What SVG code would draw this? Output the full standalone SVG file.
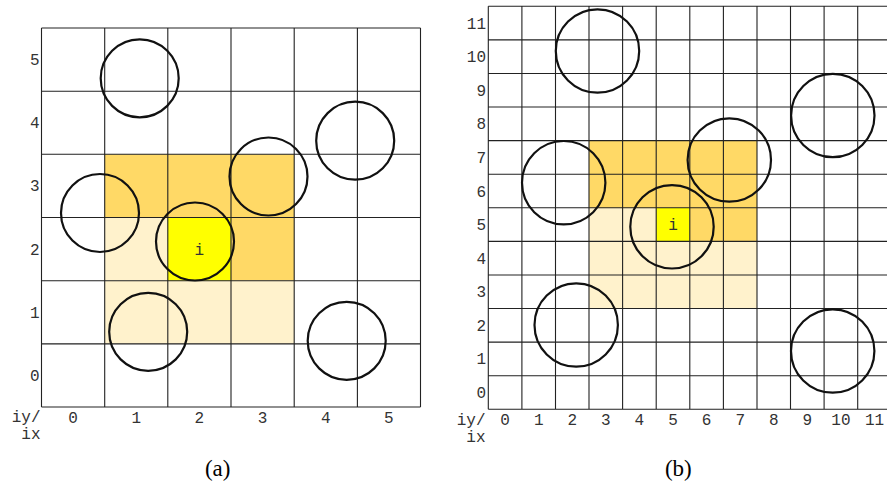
<svg xmlns="http://www.w3.org/2000/svg" width="887" height="487" viewBox="0 0 887 487">
<style>
.grid{fill:none;stroke:#222;stroke-width:1.1}
.c{fill:none;stroke:#111;stroke-width:2.2}
.dk{fill:#FFD966}
.lt{fill:#FFF2CC}
.yl{fill:#FFFF00}
.lb{font-family:"Liberation Mono","DejaVu Sans Mono",monospace;font-size:16px;fill:#333}
.m{text-anchor:middle}
.e{text-anchor:end}
.cap{font-family:"Liberation Serif","Times New Roman",serif;font-size:23px;fill:#000;text-anchor:middle}
</style>
<rect width="887" height="487" fill="#fff"/>
<g id="panel-a">
  <g id="a-cells">
    <rect class="dk" x="104.7" y="154.3" width="189.5" height="63.2"/>
    <rect class="dk" x="231" y="217.5" width="63.2" height="63.2"/>
    <rect class="lt" x="104.7" y="217.5" width="63.1" height="63.2"/>
    <rect class="lt" x="104.7" y="280.7" width="189.5" height="63.2"/>
    <rect class="yl" x="167.8" y="217.5" width="63.2" height="63.2"/>
  </g>
  <path id="a-grid" class="grid" d="M41.5 28V407M104.7 28V407M167.8 28V407M231 28V407M294.2 28V407M357.4 28V407M420.5 28V407M41.5 28H420.5M41.5 91.2H420.5M41.5 154.3H420.5M41.5 217.5H420.5M41.5 280.7H420.5M41.5 343.9H420.5M41.5 407H420.5"/>
  <g id="a-circles">
    <circle class="c" cx="139.7" cy="78.3" r="39"/>
    <circle class="c" cx="100" cy="213" r="39"/>
    <circle class="c" cx="268.5" cy="176.5" r="39"/>
    <circle class="c" cx="355.2" cy="140.7" r="39"/>
    <circle class="c" cx="195" cy="241.5" r="39"/>
    <circle class="c" cx="148.2" cy="331.8" r="39"/>
    <circle class="c" cx="346.7" cy="340.8" r="39"/>
  </g>
  <g id="a-labels" class="lb">
    <text class="m" x="199.4" y="254.6">i</text>
    <text class="m" x="34.7" y="65.1">5</text>
    <text class="m" x="34.7" y="128.3">4</text>
    <text class="m" x="34.7" y="191.4">3</text>
    <text class="m" x="34.7" y="254.6">2</text>
    <text class="m" x="34.7" y="317.8">1</text>
    <text class="m" x="34.7" y="380.9">0</text>
    <text class="m" x="73.1" y="422.5">0</text>
    <text class="m" x="136.2" y="422.5">1</text>
    <text class="m" x="199.4" y="422.5">2</text>
    <text class="m" x="262.6" y="422.5">3</text>
    <text class="m" x="325.8" y="422.5">4</text>
    <text class="m" x="388.9" y="422.5">5</text>
    <text class="e" x="40.5" y="421.5">iy/</text>
    <text class="e" x="40.5" y="439">ix</text>
  </g>
  <text id="cap-a" class="cap" x="217.7" y="476">(a)</text>
</g>
<g id="panel-b">
  <g id="b-cells">
    <rect class="dk" x="589" y="141" width="168" height="67"/>
    <rect class="dk" x="689.8" y="208" width="67.2" height="33.7"/>
    <rect class="lt" x="589" y="208" width="67.2" height="33.7"/>
    <rect class="lt" x="589" y="241.7" width="168" height="67"/>
    <rect class="yl" x="656.2" y="208" width="33.6" height="33.7"/>
  </g>
  <path id="b-grid" class="grid" d="M488.3 6.3V409.3M521.9 6.3V409.3M555.5 6.3V409.3M589 6.3V409.3M622.6 6.3V409.3M656.2 6.3V409.3M689.8 6.3V409.3M723.4 6.3V409.3M757 6.3V409.3M790.5 6.3V409.3M824.1 6.3V409.3M857.7 6.3V409.3M488.3 6.3H891M488.3 39.9H891M488.3 73.5H891M488.3 107H891M488.3 140.6H891M488.3 174.2H891M488.3 207.8H891M488.3 241.4H891M488.3 275H891M488.3 308.5H891M488.3 342.1H891M488.3 375.7H891M488.3 409.3H891"/>
  <g id="b-circles">
    <circle class="c" cx="597.5" cy="51" r="41.7"/>
    <circle class="c" cx="563.7" cy="182.7" r="41.7"/>
    <circle class="c" cx="729.3" cy="160" r="41.7"/>
    <circle class="c" cx="832.8" cy="115.5" r="41.7"/>
    <circle class="c" cx="672" cy="226.8" r="41.7"/>
    <circle class="c" cx="576.2" cy="325" r="41.7"/>
    <circle class="c" cx="832.7" cy="351" r="41.7"/>
  </g>
  <g id="b-labels" class="lb">
    <text class="m" x="673" y="230.3">i</text>
    <text class="e" x="486" y="28.6">11</text>
    <text class="e" x="486" y="62.2">10</text>
    <text class="e" x="486" y="95.8">9</text>
    <text class="e" x="486" y="129.3">8</text>
    <text class="e" x="486" y="162.9">7</text>
    <text class="e" x="486" y="196.5">6</text>
    <text class="e" x="486" y="230.1">5</text>
    <text class="e" x="486" y="263.7">4</text>
    <text class="e" x="486" y="297.3">3</text>
    <text class="e" x="486" y="330.8">2</text>
    <text class="e" x="486" y="364.4">1</text>
    <text class="e" x="486" y="398">0</text>
    <text class="m" x="505.1" y="424.5">0</text>
    <text class="m" x="538.7" y="424.5">1</text>
    <text class="m" x="572.3" y="424.5">2</text>
    <text class="m" x="605.8" y="424.5">3</text>
    <text class="m" x="639.4" y="424.5">4</text>
    <text class="m" x="673" y="424.5">5</text>
    <text class="m" x="706.6" y="424.5">6</text>
    <text class="m" x="740.2" y="424.5">7</text>
    <text class="m" x="773.8" y="424.5">8</text>
    <text class="m" x="807.3" y="424.5">9</text>
    <text class="m" x="840.9" y="424.5">10</text>
    <text class="m" x="874.5" y="424.5">11</text>
    <text class="e" x="485.5" y="424.5">iy/</text>
    <text class="e" x="485.5" y="442">ix</text>
  </g>
  <text id="cap-b" class="cap" x="678.3" y="476">(b)</text>
</g>
</svg>
